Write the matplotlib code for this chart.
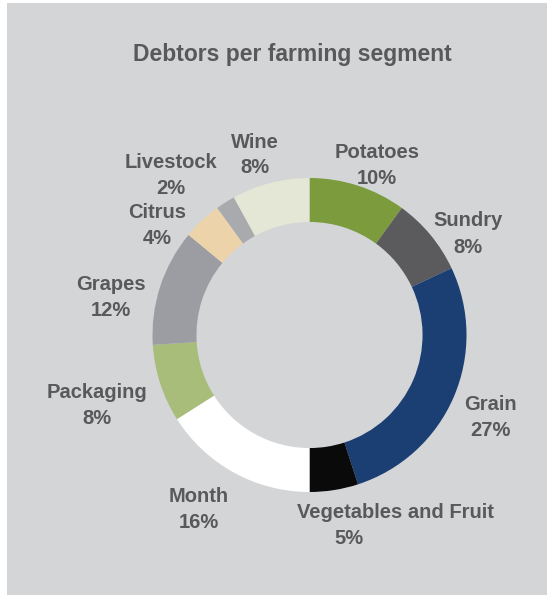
import matplotlib
matplotlib.use("Agg")
import matplotlib.pyplot as plt
from matplotlib.patches import Rectangle

# debtor split per farming segment, clockwise from 12 o'clock
segments = ["Potatoes", "Sundry", "Grain", "Vegetables and Fruit", "Month",
            "Packaging", "Grapes", "Citrus", "Livestock", "Wine"]
shares = [10, 8, 27, 5, 16, 8, 12, 4, 2, 8]
colors = ["#7b9b3c", "#5b5b5d", "#1b3f73", "#0a0a0a", "#ffffff",
          "#a8bd7a", "#9b9da2", "#ecd3a9", "#a9aaae", "#e4e7d5"]

W, H = 552, 597
fig = plt.figure(figsize=(W / 100, H / 100), dpi=100, facecolor="white")

# grey card behind the chart
fig.patches.append(Rectangle((7 / W, 2 / H), 540 / W, 592 / H,
                             transform=fig.transFigure, facecolor="#d4d5d7",
                             edgecolor="none", zorder=-5))

cx, cy, r = 309.5, 335, 157
ax = fig.add_axes([(cx - r) / W, (H - cy - r) / H, 2 * r / W, 2 * r / H])
ax.set_zorder(2)
ax.patch.set_alpha(0)
ax.pie(shares, colors=colors, startangle=90, counterclock=False,
       wedgeprops=dict(width=0.28, edgecolor="none"))
ax.set_xlim(-1, 1)
ax.set_ylim(-1, 1)
ax.set_axis_off()

txt = dict(family="Liberation Sans", fontweight="bold", color="#58595b",
           ha="center", va="center")

def px(x, y):
    return x / W, 1 - y / H

fig.text(*px(292, 55), "Debtors per farming segment", fontsize=16.5, **txt)

# label anchors in pixels (centre of name line, centre of value line)
label_pos = {
    "Potatoes": (377, 153, 377, 179),
    "Sundry": (468, 220, 468, 247),
    "Grain": (490, 405, 490, 430),
    "Vegetables and Fruit": (395, 513, 349, 538),
    "Month": (199, 497, 199, 522),
    "Packaging": (97, 393, 97, 418),
    "Grapes": (111, 285, 111, 311),
    "Citrus": (157, 212, 157, 238),
    "Livestock": (171, 163, 171, 188),
    "Wine": (255, 142, 255, 167),
}
for name, val in zip(segments, shares):
    x1, y1, x2, y2 = label_pos[name]
    fig.text(*px(x1, y1), name, fontsize=14.5, **txt)
    fig.text(*px(x2, y2), f"{val}%", fontsize=14.5, **txt)

fig.savefig("out.png", dpi=100, facecolor="white")
